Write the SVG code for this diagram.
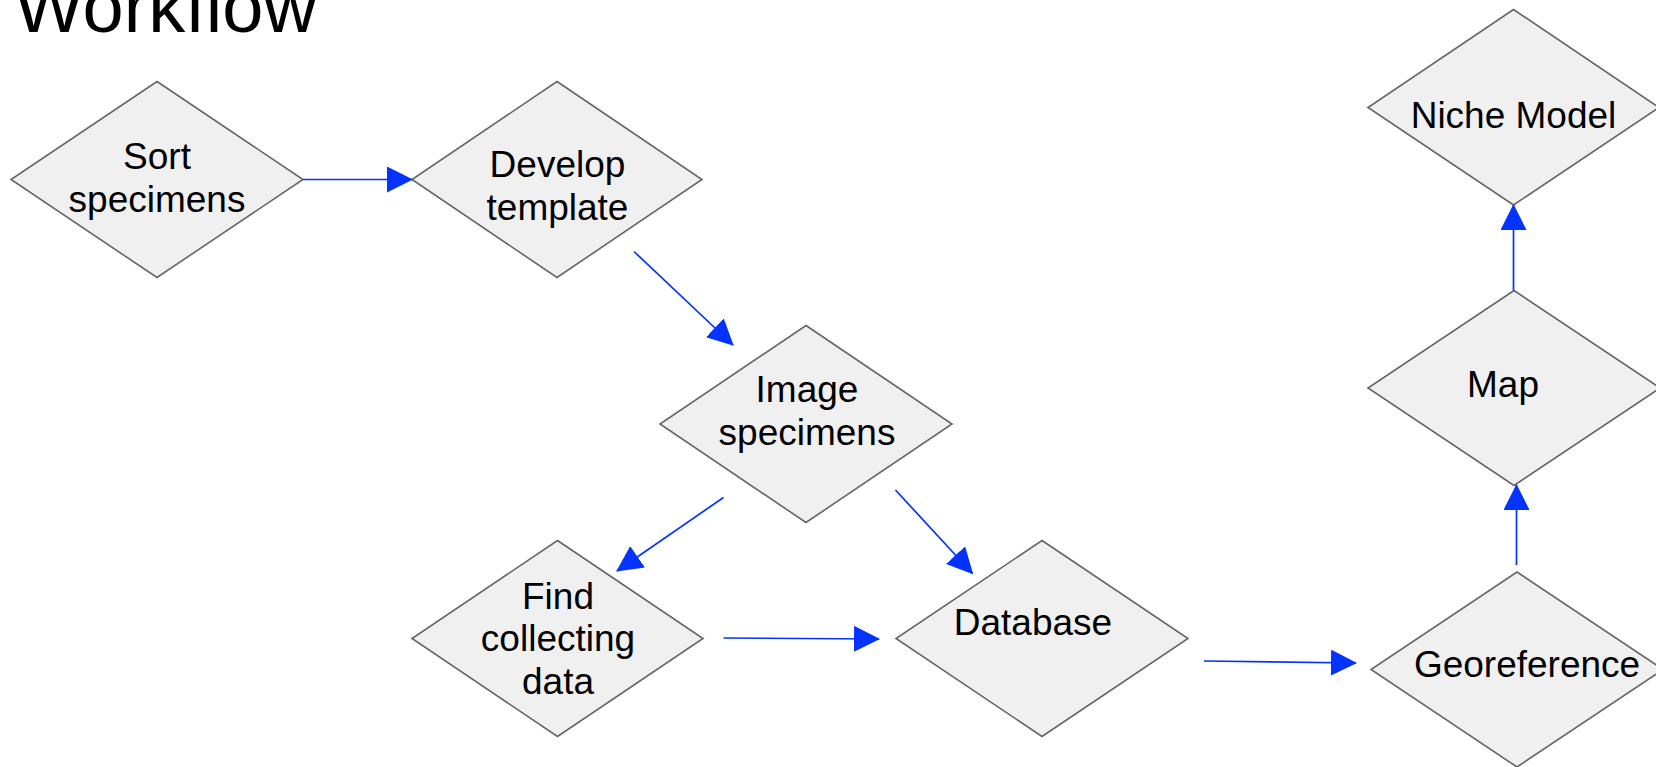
<svg xmlns="http://www.w3.org/2000/svg" width="1656" height="767" viewBox="0 0 1656 767">
  <style>
    .node polygon { fill: #f0f0f0; stroke: #666666; stroke-width: 1.6; stroke-linejoin: miter; }
    .node text { font-family: "Liberation Sans", Arial, sans-serif; font-size: 37px; fill: #000000; text-anchor: middle; }
    .title { font-family: "Liberation Sans", Arial, sans-serif; font-size: 74px; fill: #000000; }
    #connectors line { stroke: #0433ff; stroke-width: 1.7; fill: none; marker-end: url(#arrow); }
  </style>
  <defs>
    <marker id="arrow" markerUnits="userSpaceOnUse" markerWidth="26" markerHeight="26" viewBox="0 0 26 26" refX="25" refY="13" orient="auto">
      <path d="M0,0 L26,13 L0,26 Z" fill="#0433ff"/>
    </marker>
  </defs>

  <rect width="1656" height="767" fill="#ffffff"/>

  <text class="title" x="14" y="32">Workflow</text>

  <g id="node-sort" class="node">
    <polygon points="157,81.5 303,179.5 157,277.5 11,179.5"/>
    <text x="157" y="169">Sort</text>
    <text x="157" y="211.5">specimens</text>
  </g>

  <g id="node-develop" class="node">
    <polygon points="557,81.5 702,179.5 557,277.5 412,179.5"/>
    <text x="557.5" y="177">Develop</text>
    <text x="557.5" y="219.5">template</text>
  </g>

  <g id="node-image" class="node">
    <polygon points="806,325.5 952,424 806,522.5 660,424"/>
    <text x="807" y="402">Image</text>
    <text x="807" y="444.5">specimens</text>
  </g>

  <g id="node-find" class="node">
    <polygon points="557.5,540.5 703,638.5 557.5,736.5 412,638.5"/>
    <text x="558" y="608.5">Find</text>
    <text x="558" y="651">collecting</text>
    <text x="558" y="694">data</text>
  </g>

  <g id="node-database" class="node">
    <polygon points="1042,540.5 1188,638.5 1042,736.5 896,638.5"/>
    <text x="1033" y="635">Database</text>
  </g>

  <g id="node-georeference" class="node">
    <polygon points="1517,572 1663,669.5 1517,767 1371,669.5"/>
    <text x="1527" y="677">Georeference</text>
  </g>

  <g id="node-map" class="node">
    <polygon points="1514,290.5 1660,388 1514,485.5 1368,388"/>
    <text x="1503" y="397">Map</text>
  </g>

  <g id="node-niche" class="node">
    <polygon points="1513.5,9.5 1659,107.5 1513.5,205 1368,107.5"/>
    <text x="1513.5" y="128">Niche Model</text>
  </g>

  <g id="connectors">
    <line x1="303" y1="179.5" x2="412" y2="179.5"/>
    <line x1="634" y1="251.5" x2="733" y2="345"/>
    <line x1="723.5" y1="497.5" x2="617" y2="571"/>
    <line x1="895.5" y1="490" x2="972.5" y2="573.5"/>
    <line x1="723.5" y1="638" x2="879" y2="639"/>
    <line x1="1204" y1="661" x2="1356" y2="663"/>
    <line x1="1516.5" y1="565" x2="1516.5" y2="485"/>
    <line x1="1513.5" y1="290.5" x2="1513.5" y2="205"/>
  </g>
</svg>
